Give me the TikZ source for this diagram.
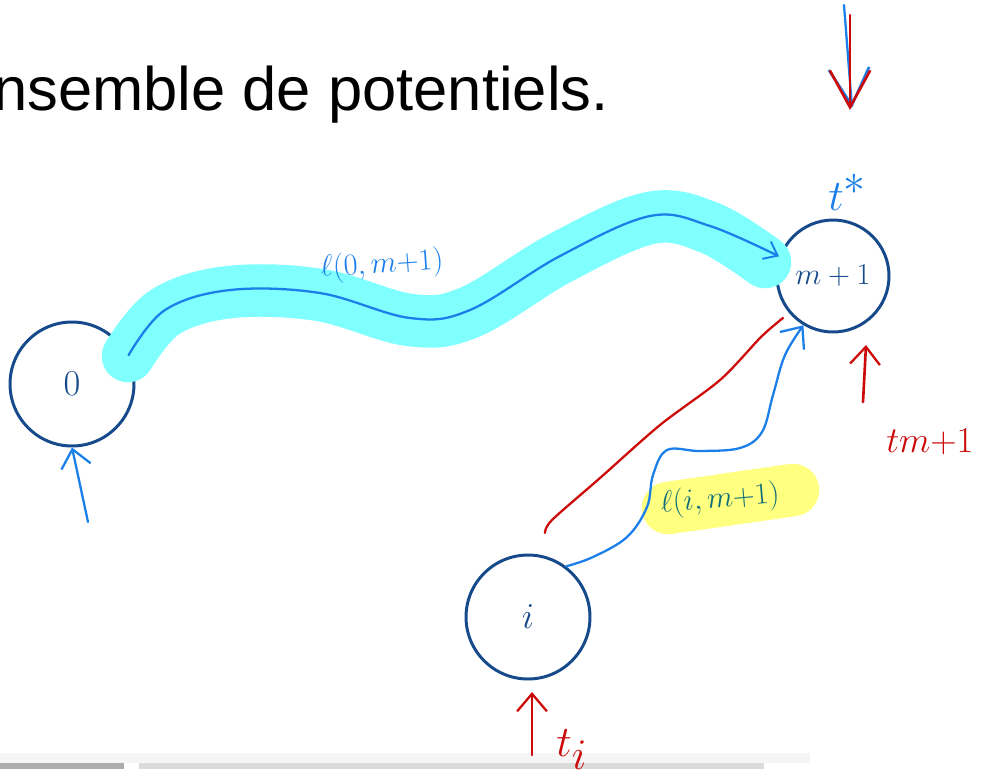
\documentclass[tikz,border=0pt]{standalone}
\usepackage{fontspec}
\newfontfamily\arialf{Liberation Sans}
\usetikzlibrary{arrows.meta}
\definecolor{circblue}{HTML}{164A8A}
\definecolor{penblue}{HTML}{1B7FEA}
\definecolor{penred}{HTML}{CC0A0A}
\definecolor{hlcyan}{HTML}{80FFFF}
\definecolor{hlyellow}{HTML}{FFFF80}
\definecolor{tealtxt}{HTML}{0F6E78}
\begin{document}
\begin{tikzpicture}[x=0.02cm,y=-0.02cm,
  state/.style={circle, draw=circblue, line width=1.7pt, inner sep=0pt, text=circblue},
  pen/.style={line width=1.3pt, line cap=round, line join=round},
  hl/.style={line width=1.05cm, line cap=round, line join=round},
  smallhead/.style={-{Straight Barb[length=10pt,width=17pt,line width=1.3pt]}},
  bighead/.style={-{Straight Barb[length=21pt,width=23pt,line width=1.5pt]}},
  lbl/.style={inner sep=0pt}]
\useasboundingbox (0,0) rectangle (982,769);
% bottom bars
\fill[gray!8] (0,753) rectangle (810,763);
\fill[gray!65] (0,763) rectangle (124,769);
\fill[gray!28] (139,763) rectangle (764,769);
% title
\node[lbl, anchor=base east] (title) at (609,110) {\arialf\fontsize{35}{40}\selectfont nsemble de potentiels.};
% nodes
\node[state, minimum size=2.48cm] (n0) at (72,384) {\fontsize{22}{26}\selectfont$0$};
\node[state, minimum size=2.24cm] (nm) at (833,276) {\fontsize{19}{22}\selectfont$m+1$};
\node[state, minimum size=2.48cm] (ni) at (528,617) {\fontsize{22}{26}\selectfont$i$};
% highlights
\draw[hl, hlcyan] plot[smooth, tension=0.6] coordinates {(128,356) (165,312) (230,292) (320,295) (410,320) (470,312) (560,258) (650,218) (710,228) (765,262)};
\draw[hl, hlyellow] (668,508) -- (793,490);
% curve l(0,m+1)
\draw[pen, penblue, -{Straight Barb[length=7pt,width=11pt,line width=1.1pt]}] plot[smooth, tension=0.6] coordinates {(n0.27) (165,310) (230,290) (320,293) (410,318) (470,310) (560,256) (650,216) (710,226) (nm.160)};
\node[lbl, text=penblue, rotate=4] (l0) at (382,265) {\fontsize{18}{22}\selectfont$\ell(0,m{+}1)$};
% red line
\coordinate (r1) at (545,533);
\coordinate (r2) at (783,318);
\draw[pen, penred] plot[smooth, tension=0.5] coordinates {(r1) (552,520) (600,478) (660,425) (720,380) (760,338) (778,322) (r2)};
% curve l(i,m+1)
\draw[pen, penblue, smallhead] plot[smooth, tension=0.6] coordinates {(ni.53) (593,557) (627,537) (647,507) (653,475) (667,450) (700,451) (740,448) (762,432) (773,395) (785,355) (nm.239)};
\node[lbl, text=tealtxt, rotate=5] (li) at (720,500) {\fontsize{17}{20}\selectfont$\ell(i,m{+}1)$};
% arrow below 0
\coordinate (a0) at (88,522);
\draw[pen, penblue, smallhead] (a0) -- (n0.south);
% arrow below m+1
\coordinate (am) at (863,402);
\coordinate (amt) at (866,345);
\draw[pen, line width=1.5pt, penred, smallhead] (am) -- (amt);
\node[lbl, anchor=base west, text=penred] (tm) at (886,452) {\fontsize{22}{26}\selectfont$tm{+}1$};
% arrow below i
\coordinate (ai) at (532,755);
\coordinate (ait) at (532,692);
\draw[pen, line width=1.5pt, penred, smallhead] (ai) -- (ait);
\node[lbl, anchor=base west, text=penred] (ti) at (556,756) {\fontsize{50}{56}\selectfont$t_i$};
% top arrows
\coordinate (tb1) at (844,5);
\coordinate (tb2) at (852,108);
\coordinate (tr1) at (850,15);
\coordinate (tr2) at (850,110);
\draw[pen, penblue, bighead] (tb1) -- (tb2);
\draw[pen, penred, bighead] (tr1) -- (tr2);
% t*
\node[lbl, anchor=base west, text=penblue] (ts) at (828,210) {\fontsize{54}{60}\selectfont$t^{*}$};
\end{tikzpicture}
\end{document}
